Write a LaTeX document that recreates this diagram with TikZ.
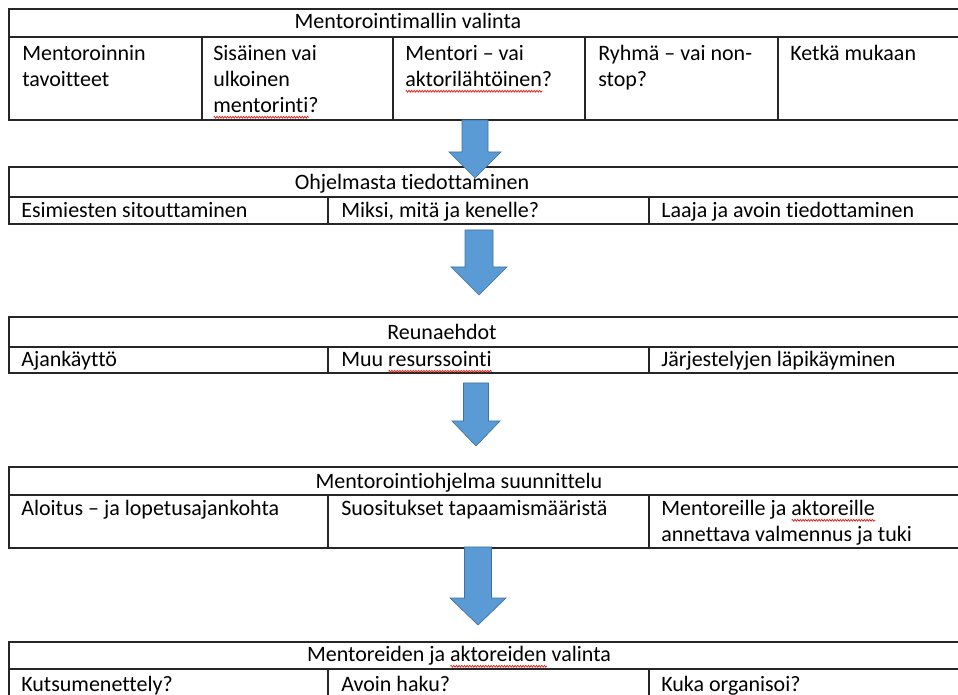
\documentclass[tikz,border=0pt]{standalone}
\usepackage{fontspec}
\setmainfont{Carlito}[Ligatures=NoCommon]
\usetikzlibrary{decorations.pathmorphing}
\definecolor{arrowblue}{HTML}{5B9BD5}
\definecolor{arrowedge}{HTML}{41719C}
\definecolor{spellred}{HTML}{E0201B}
\newcommand{\tabfont}{\fontsize{16.5}{19.5}\selectfont}
\newcommand{\lines}[1]{\begin{tabular}[t]{@{}l@{}}#1\end{tabular}}
\newsavebox{\sqbox}
\newcommand{\sq}[1]{\sbox{\sqbox}{#1}\rlap{\tikz[baseline=0pt]\draw[spellred, line width=0.55pt,
  decorate, decoration={zigzag, amplitude=0.7pt, segment length=2pt}] (0pt,-3.2pt) -- (\wd\sqbox,-3.2pt);}#1}
\newcommand{\blockarrow}[6]{%
  \filldraw[arrow] (#1-#2,#4) -- (#1+#2,#4) -- (#1+#2,#5) -- (#1+#3,#5) -- (#1,#6)
    -- (#1-#3,#5) -- (#1-#2,#5) -- cycle;}

\begin{document}
\begin{tikzpicture}[x=0.75pt, y=-0.75pt]
  \tikzstyle{grid} = [line width=1.1pt, draw=black!85]
  \tikzstyle{head} = [anchor=base, inner sep=0pt, font=\tabfont]
  \tikzstyle{cell} = [anchor=base west, inner sep=0pt, font=\tabfont]
  \tikzstyle{arrow} = [fill=arrowblue, draw=arrowedge, line width=0.5pt]

  \useasboundingbox (0,0) rectangle (958,695);
  \clip (0,0) rectangle (958,695);

  \draw [grid] (9,9) rectangle (966,120) (9,37) -- (966,37);
  \foreach \x in {202,393,585,778} \draw [grid] (\x,37) -- (\x,120);
  \node (malli) [head] at (408,29) {Mentorointimallin valinta};
  \node (tavoite) [cell] at (22,61) {\lines{Mentoroinnin\\tavoitteet}};
  \node (sisainen) [cell] at (213,61) {\lines{Sisäinen vai\\ulkoinen\\\sq{mentorinti}?}};
  \node (lahto) [cell] at (405,61) {\lines{Mentori – vai\\\sq{aktorilähtöinen}?}};
  \node (ryhma) [cell] at (598,61) {\lines{Ryhmä – vai non-\\stop?}};
  \node (ketka) [cell] at (790,61) {Ketkä mukaan};

  \draw [grid] (9,167) rectangle (966,224) (9,197) -- (966,197);
  \foreach \x in {328,649} \draw [grid] (\x,197) -- (\x,224);
  \node (tiedotus) [head] at (412,190) {Ohjelmasta tiedottaminen};
  \node (esimies) [cell] at (21,218) {Esimiesten sitouttaminen};
  \node (miksi) [cell] at (341,218) {Miksi, mitä ja kenelle?};
  \node (laaja) [cell] at (661,218) {Laaja ja avoin tiedottaminen};

  \draw [grid] (9,317) rectangle (966,373) (9,347) -- (966,347);
  \foreach \x in {328,649} \draw [grid] (\x,347) -- (\x,373);
  \node (reuna) [head] at (442,340) {Reunaehdot};
  \node (aika) [cell] at (21,367) {Ajankäyttö};
  \node (resurssi) [cell] at (341,367) {Muu \sq{resurssointi}};
  \node (jarjestely) [cell] at (661,367) {Järjestelyjen läpikäyminen};

  \draw [grid] (9,467) rectangle (966,548) (9,495) -- (966,495);
  \foreach \x in {328,649} \draw [grid] (\x,495) -- (\x,548);
  \node (suunnittelu) [head] at (459,489) {Mentorointiohjelma suunnittelu};
  \node (aloitus) [cell] at (21,516) {Aloitus – ja lopetusajankohta};
  \node (suositus) [cell] at (341,516) {Suositukset tapaamismääristä};
  \node (valmennus) [cell] at (661,516) {\lines{Mentoreille ja \sq{aktoreille}\\annettava valmennus ja tuki}};

  \draw [grid] (9,642) rectangle (966,730) (9,669) -- (966,669);
  \foreach \x in {328,649} \draw [grid] (\x,669) -- (\x,730);
  \node (valinta) [head] at (459,662) {Mentoreiden ja \sq{aktoreiden} valinta};
  \node (kutsu) [cell] at (21,691) {Kutsumenettely?};
  \node (haku) [cell] at (341,691) {Avoin haku?};
  \node (kuka) [cell] at (661,691) {Kuka organisoi?};

  \blockarrow{475}{13}{26}{120}{152}{178}
  \blockarrow{479}{14}{28}{230}{267}{295}
  \blockarrow{476}{12.5}{24}{383}{421}{446}
  \blockarrow{478}{13.5}{28}{547}{598}{625}
\end{tikzpicture}
\end{document}
